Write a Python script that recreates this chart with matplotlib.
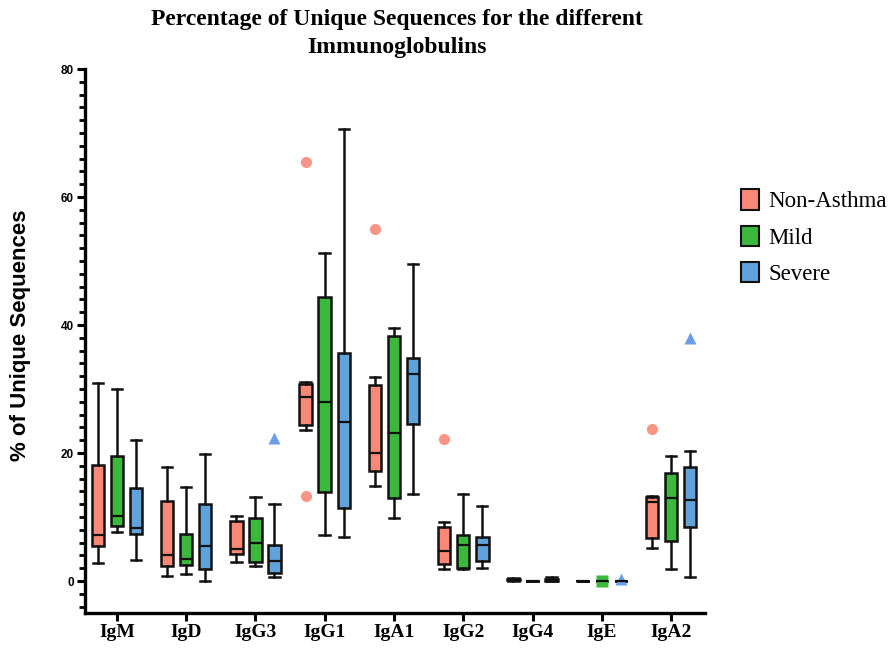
import matplotlib.pyplot as plt
from matplotlib.patches import Patch
from matplotlib.ticker import MultipleLocator
import numpy as np

# Categories and groups
categories = ['IgM', 'IgD', 'IgG3', 'IgG1', 'IgA1', 'IgG2', 'IgG4', 'IgE', 'IgA2']
groups = ['Non-Asthma', 'Mild', 'Severe']

# (whisker low, Q1, median, Q3, whisker high) per category
non_asthma = [
    (2.8, 5.5, 7.2, 18.1, 31.0),
    (0.8, 2.4, 4.0, 12.5, 17.8),
    (3.0, 4.2, 5.0, 9.4, 10.1),
    (23.6, 24.3, 28.8, 30.8, 31.1),
    (14.8, 17.2, 20.0, 30.6, 31.9),
    (1.9, 2.6, 4.7, 8.4, 9.2),
    (0.05, 0.1, 0.2, 0.3, 0.4),
    (0.0, 0.0, 0.0, 0.0, 0.0),
    (5.2, 6.7, 12.4, 13.1, 13.3),
]
mild = [
    (7.6, 8.6, 10.2, 19.6, 30.0),
    (1.1, 2.5, 3.5, 7.4, 14.7),
    (2.3, 2.9, 5.9, 9.9, 13.2),
    (7.2, 13.9, 28.0, 44.4, 51.3),
    (9.8, 12.9, 23.1, 38.3, 39.6),
    (1.9, 2.1, 5.7, 7.2, 13.6),
    (0.0, 0.0, 0.0, 0.05, 0.05),
    (0.0, 0.0, 0.0, 0.0, 0.0),
    (1.8, 6.3, 12.9, 16.8, 19.6),
]
severe = [
    (3.3, 7.3, 8.3, 14.5, 22.1),
    (0.05, 1.8, 5.4, 12.1, 19.9),
    (0.6, 1.2, 3.1, 5.7, 12.1),
    (6.8, 11.4, 24.9, 35.7, 70.6),
    (13.6, 24.5, 32.3, 34.9, 49.6),
    (2.1, 3.2, 5.6, 6.9, 11.7),
    (0.0, 0.05, 0.15, 0.25, 0.7),
    (0.0, 0.0, 0.0, 0.0, 0.0),
    (0.6, 8.5, 12.6, 17.8, 20.3),
]

# Outliers per category
non_asthma_out = [[], [], [], [65.4, 13.3], [55.0], [22.2], [], [], [23.8]]
mild_out = [[], [], [], [], [], [], [], [0.05], []]
severe_out = [[], [], [22.4], [], [], [], [], [0.3], [38.0]]

box_colors = ['#fa8877', '#3cb83c', '#5fa2dc']
flier_colors = ['#f99586', '#3cb83c', '#6b9de8']
flier_markers = ['o', 's', '^']

fig = plt.figure(figsize=(8.94, 6.5), dpi=100)
ax = fig.add_axes([85/894, 37/650, 620/894, 544/650])

x = np.arange(len(categories))
offsets = [-0.275, 0.0, 0.275]
all_stats = [non_asthma, mild, severe]
all_out = [non_asthma_out, mild_out, severe_out]

for g in range(3):
    stats = []
    for i, (lo, q1, med, q3, hi) in enumerate(all_stats[g]):
        stats.append(dict(whislo=lo, q1=q1, med=med, q3=q3, whishi=hi,
                          fliers=all_out[g][i]))
    ax.bxp(stats, positions=x + offsets[g], widths=0.18, capwidths=0.15,
           patch_artist=True, showfliers=True,
           boxprops=dict(facecolor=box_colors[g], edgecolor='#111111', linewidth=1.8),
           medianprops=dict(color='#111111', linewidth=1.6),
           whiskerprops=dict(color='#111111', linewidth=1.8),
           capprops=dict(color='#111111', linewidth=1.8),
           flierprops=dict(marker=flier_markers[g], markerfacecolor=flier_colors[g],
                           markeredgecolor='none', markersize=9 if g else 8,
                           linestyle='none'),
           manage_ticks=False)

ax.set_xlim(-0.46, 8.49)
ax.set_ylim(-5, 80)
ax.set_xticks(x)
ax.set_xticklabels(categories, family='Liberation Serif', fontweight='bold', fontsize=14)
ax.yaxis.set_major_locator(MultipleLocator(20))
ax.yaxis.set_minor_locator(MultipleLocator(2))
for lab in ax.get_yticklabels():
    lab.set_family('Liberation Sans')
    lab.set_fontweight('bold')
    lab.set_fontsize(8.5)

ax.spines['top'].set_visible(False)
ax.spines['right'].set_visible(False)
ax.spines['left'].set_linewidth(2.4)
ax.spines['bottom'].set_linewidth(2.4)
ax.tick_params(axis='both', which='major', width=2.2, length=6, pad=2, color='black')
ax.tick_params(axis='y', which='minor', width=2.0, length=4)

ax.set_ylabel('% of Unique Sequences', family='Liberation Sans', fontweight='bold',
              fontsize=16)
ax.yaxis.set_label_coords(-0.087, 0.51)

fig.suptitle('Percentage of Unique Sequences for the different\nImmunoglobulins',
             x=397/894, y=0.986, family='Liberation Serif', fontweight='bold',
             fontsize=17, linespacing=1.4)

handles = [Patch(facecolor=c, edgecolor='#111111', linewidth=1.5) for c in box_colors]
fig.legend(handles, groups, loc='upper left', bbox_to_anchor=(732/894, 1 - 180/650),
           frameon=False, prop=dict(family='Liberation Serif', size=16.5),
           handlelength=0.78, handleheight=1.0, handletextpad=0.4,
           labelspacing=0.58, borderaxespad=0)

fig.savefig('out.png', dpi=100)
